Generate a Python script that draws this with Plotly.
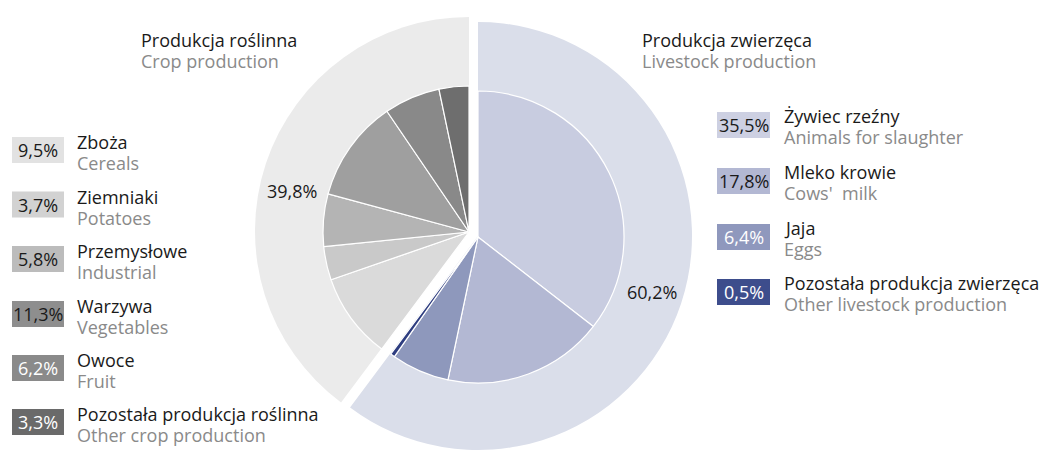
import plotly.graph_objects as go

# ---------------- data ----------------
group_names_pl = ["Produkcja zwierzęca", "Produkcja roślinna"]
group_names_en = ["Livestock production", "Crop production"]

livestock_pl = ["Żywiec rzeźny", "Mleko krowie", "Jaja", "Pozostała produkcja zwierzęca"]
livestock_en = ["Animals for slaughter", "Cows'  milk", "Eggs", "Other livestock production"]
livestock_values = [35.5, 17.8, 6.4, 0.5]

crop_pl = ["Zboża", "Ziemniaki", "Przemysłowe", "Warzywa", "Owoce", "Pozostała produkcja roślinna"]
crop_en = ["Cereals", "Potatoes", "Industrial", "Vegetables", "Fruit", "Other crop production"]
crop_values = [9.5, 3.7, 5.8, 11.3, 6.2, 3.3]

livestock_total = 60.2
crop_total = 39.8

# ---------------- styles ----------------
OFF = 8                      # page body margin
W, H = 1049 - OFF, 450 - OFF  # figure size so page fits the window
FONT = "Open Sans"
FS = 18
DARK = "#1a1a1a"
GREY = "#8a8a8a"
CLEAR = "rgba(0,0,0,0)"

outer_livestock_color = "#dadeea"
outer_crop_color = "#ebebeb"
livestock_colors = ["#c8cce0", "#b3b8d3", "#8e98bc", "#2e3d80"]
crop_colors = ["#dadada", "#c9c9c9", "#b4b4b4", "#9f9f9f", "#898989", "#6e6e6e"]
livestock_box_colors = ["#cdd0e2", "#b3b8d3", "#8f98bd", "#3d4d8c"]
crop_box_colors = ["#e2e2e2", "#d2d2d2", "#bcbcbc", "#8e8e8e", "#8a8a8a", "#6a6a6a"]
livestock_box_text = [DARK, DARK, "white", "white"]
crop_box_text = [DARK, DARK, DARK, DARK, "white", "white"]


def fx(x):
    return (x - OFF) / W


def fy(y):
    return 1 - (y - OFF) / H


def px_dom(cx, cy, r):
    return dict(x=[fx(cx - r), fx(cx + r)], y=[max(0, fy(cy + r)), min(1, fy(cy - r))])


def fmt(v):
    return f"{v:.1f}".replace(".", ",") + "%"


# pie geometry (page pixels)
C_L_OUT = (478, 236)
C_L_IN = (478, 237)
C_C_OUT = (469, 231)   # crop pulled out
C_C_IN = (469, 232)
R_OUT = 214
R_IN = 146

fig = go.Figure()
common = dict(sort=False, direction="clockwise", rotation=0, textinfo="none",
              hoverinfo="label+value", showlegend=False)

fig.add_trace(go.Pie(values=[livestock_total, crop_total], labels=group_names_pl,
                     marker=dict(colors=[outer_livestock_color, CLEAR], line=dict(width=0)),
                     domain=px_dom(*C_L_OUT, R_OUT), **common))
fig.add_trace(go.Pie(values=[livestock_total, crop_total], labels=group_names_pl,
                     marker=dict(colors=[CLEAR, outer_crop_color], line=dict(width=0)),
                     domain=px_dom(*C_C_OUT, R_OUT), **common))
fig.add_trace(go.Pie(values=livestock_values + [crop_total], labels=livestock_pl + [" "],
                     marker=dict(colors=livestock_colors + [CLEAR],
                                 line=dict(color="white", width=[1.2] * len(livestock_values) + [0])),
                     domain=px_dom(*C_L_IN, R_IN), **common))
fig.add_trace(go.Pie(values=[livestock_total] + crop_values, labels=["  "] + crop_pl,
                     marker=dict(colors=[CLEAR] + crop_colors,
                                 line=dict(color="white", width=[0] + [1.2] * len(crop_values))),
                     domain=px_dom(*C_C_IN, R_IN), **common))

shapes = []
ann = []


def text(x, y, s, color=DARK, size=FS, anchor="left"):
    if anchor == "left":
        x -= 2
    ann.append(dict(x=fx(x), y=fy(y), xref="paper", yref="paper", text=s, showarrow=False,
                    xanchor=anchor, yanchor="middle", font=dict(family=FONT, size=size, color=color)))


def box(x0, x1, yc, color, label, tcolor):
    shapes.append(dict(type="rect", xref="paper", yref="paper", x0=fx(x0), x1=fx(x1),
                       y0=fy(yc + 13), y1=fy(yc - 13), fillcolor=color, line=dict(width=0),
                       layer="above"))
    text((x0 + x1) / 2, yc, label, color=tcolor, size=FS, anchor="center")


# titles
text(141, 40, group_names_pl[1])
text(141, 61, group_names_en[1], GREY)
text(642, 40, group_names_pl[0])
text(642, 61, group_names_en[0], GREY)

# ring labels
text(292, 191, fmt(crop_total), anchor="center")
text(652, 292, fmt(livestock_total), anchor="center")

# left legend (crop)
left_centres = [150, 204.5, 259, 314, 368, 422]
for i in range(len(crop_values)):
    yc = left_centres[i]
    box(12, 64, yc, crop_box_colors[i], fmt(crop_values[i]), crop_box_text[i])
    text(77, yc - 8, crop_pl[i])
    text(77, yc + 13, crop_en[i], GREY)

# right legend (livestock)
right_centres = [125, 181, 237, 292]
for i in range(len(livestock_values)):
    yc = right_centres[i]
    box(717, 770, yc, livestock_box_colors[i], fmt(livestock_values[i]), livestock_box_text[i])
    text(784, yc - 9, livestock_pl[i])
    text(784, yc + 12, livestock_en[i], GREY)

fig.update_layout(width=W, height=H, margin=dict(l=0, r=0, t=0, b=0),
                  paper_bgcolor="white", plot_bgcolor="white",
                  shapes=shapes, annotations=ann, font=dict(family=FONT))

fig.write_html("out.html")
